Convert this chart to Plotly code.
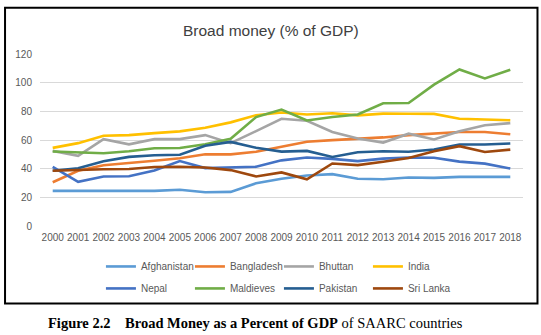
import plotly.graph_objects as go

# Broad money as % of GDP, SAARC countries, 2000-2018
years = [str(y) for y in range(2000, 2019)]

afghanistan = [24.5, 24.5, 24.7, 24.5, 24.5, 25.3, 23.5, 23.8, 29.8, 33.0,
               35.2, 36.2, 33.0, 32.6, 33.8, 33.6, 34.3, 34.3, 34.3]
bangladesh = [30.5, 38.5, 42.4, 43.8, 45.5, 47.3, 50.0, 50.0, 51.8, 55.3,
              58.8, 59.9, 60.8, 61.8, 63.4, 64.5, 65.6, 65.6, 64.0]
bhutan = [52.4, 49.0, 60.6, 57.0, 60.6, 60.6, 63.4, 57.8, 66.2, 74.8,
          73.4, 65.6, 61.0, 58.2, 64.4, 60.4, 66.1, 70.3, 71.8]
india = [54.5, 57.8, 63.0, 63.4, 64.8, 66.0, 68.6, 72.3, 77.3, 79.2,
         77.8, 78.7, 77.2, 78.4, 78.3, 78.2, 74.8, 74.3, 73.8]
nepal = [41.3, 30.8, 34.5, 34.7, 38.7, 45.3, 40.4, 40.8, 41.3, 45.8,
         47.8, 46.8, 45.3, 47.0, 47.8, 47.6, 44.9, 43.5, 40.1]
maldives = [52.0, 51.3, 50.8, 52.2, 54.2, 54.4, 57.0, 60.8, 76.0, 81.2,
            73.6, 76.0, 77.8, 85.6, 85.8, 98.6, 109.2, 103.0, 109.0]
pakistan = [38.5, 40.3, 45.2, 48.2, 49.4, 49.7, 56.0, 58.7, 54.6, 51.9,
            52.4, 48.2, 51.5, 52.2, 51.8, 53.4, 56.9, 56.9, 57.6]
sri_lanka = [38.5, 39.2, 39.6, 39.8, 41.2, 41.3, 40.8, 39.0, 34.6, 37.4,
             32.6, 43.6, 42.5, 44.8, 47.4, 52.2, 55.7, 51.6, 53.3]

series_names = ["Afghanistan", "Bangladesh", "Bhuttan", "India",
                "Nepal", "Maldieves", "Pakistan", "Sri Lanka"]
series_values = [afghanistan, bangladesh, bhutan, india,
                 nepal, maldives, pakistan, sri_lanka]
series_colors = ["#5B9BD5", "#ED7D31", "#A5A5A5", "#FFC000",
                 "#4472C4", "#70AD47", "#255E91", "#9E480E"]

y_ticks = [0, 20, 40, 60, 80, 100, 120]

# page geometry (pixels)
W, H = 541, 335
L, R, T, B = 40, 17.5, 54.3, 108.5
plot_w = W - L - R
plot_h = H - T - B


def px_x(px):
    return (px - L) / plot_w


def px_y(py):
    return (H - B - py) / plot_h


TXT = "#595959"
FONT = "Liberation Sans"

fig = go.Figure()
for i, (name, vals, col) in enumerate(zip(series_names, series_values, series_colors)):
    fig.add_trace(go.Scatter(
        x=years, y=vals, name=name, mode="lines",
        line=dict(color=col, width=2.6),
        legend="legend" if i < 4 else "legend2",
        hoverinfo="skip",
    ))

legend_common = dict(
    orientation="h", xanchor="left", yanchor="middle",
    xref="paper", yref="paper",
    font=dict(family=FONT, size=10, color=TXT),
    itemwidth=30, entrywidth=44, entrywidthmode="pixels",
    bgcolor="rgba(0,0,0,0)", borderwidth=0, tracegroupgap=0,
    itemclick=False, itemdoubleclick=False,
)

fig.update_layout(
    width=W, height=H,
    margin=dict(l=L, r=R, t=T, b=B, pad=0),
    paper_bgcolor="white", plot_bgcolor="white",
    showlegend=True,
    legend=dict(x=px_x(101), y=px_y(267), **legend_common),
    legend2=dict(x=px_x(101), y=px_y(289), **legend_common),
    xaxis=dict(
        type="category", range=[-0.5, len(years) - 0.5],
        showgrid=False, zeroline=False, showline=False, ticks="",
        tickfont=dict(family=FONT, size=10, color=TXT),
        ticklabelstandoff=4, fixedrange=True,
    ),
    yaxis=dict(
        range=[0, 120], tickvals=y_ticks,
        showgrid=True, gridcolor="#D9D9D9", gridwidth=1,
        zeroline=False, showline=False, ticks="",
        tickfont=dict(family=FONT, size=10, color=TXT),
        ticklabelstandoff=7, fixedrange=True,
    ),
    annotations=[
        dict(text="Broad money (% of GDP)", xref="paper", yref="paper",
             x=px_x(271), y=px_y(31), xanchor="center", yanchor="middle",
             showarrow=False, font=dict(family=FONT, size=15.5, color="#404040")),
        dict(text="<b>Figure 2.2\u00a0\u00a0\u00a0\u00a0Broad Money as a Percent of GDP</b> of SAARC countries",
             xref="paper", yref="paper",
             x=px_x(256), y=px_y(324), xanchor="center", yanchor="middle",
             showarrow=False, font=dict(family="Liberation Serif", size=14.5, color="black")),
    ],
    shapes=[
        dict(type="rect", xref="paper", yref="paper",
             x0=px_x(5), x1=px_x(538), y0=px_y(8), y1=px_y(304),
             line=dict(color="black", width=2), fillcolor="rgba(0,0,0,0)", layer="below"),
    ],
)

fig.write_html("out.html", config={"displayModeBar": False})
